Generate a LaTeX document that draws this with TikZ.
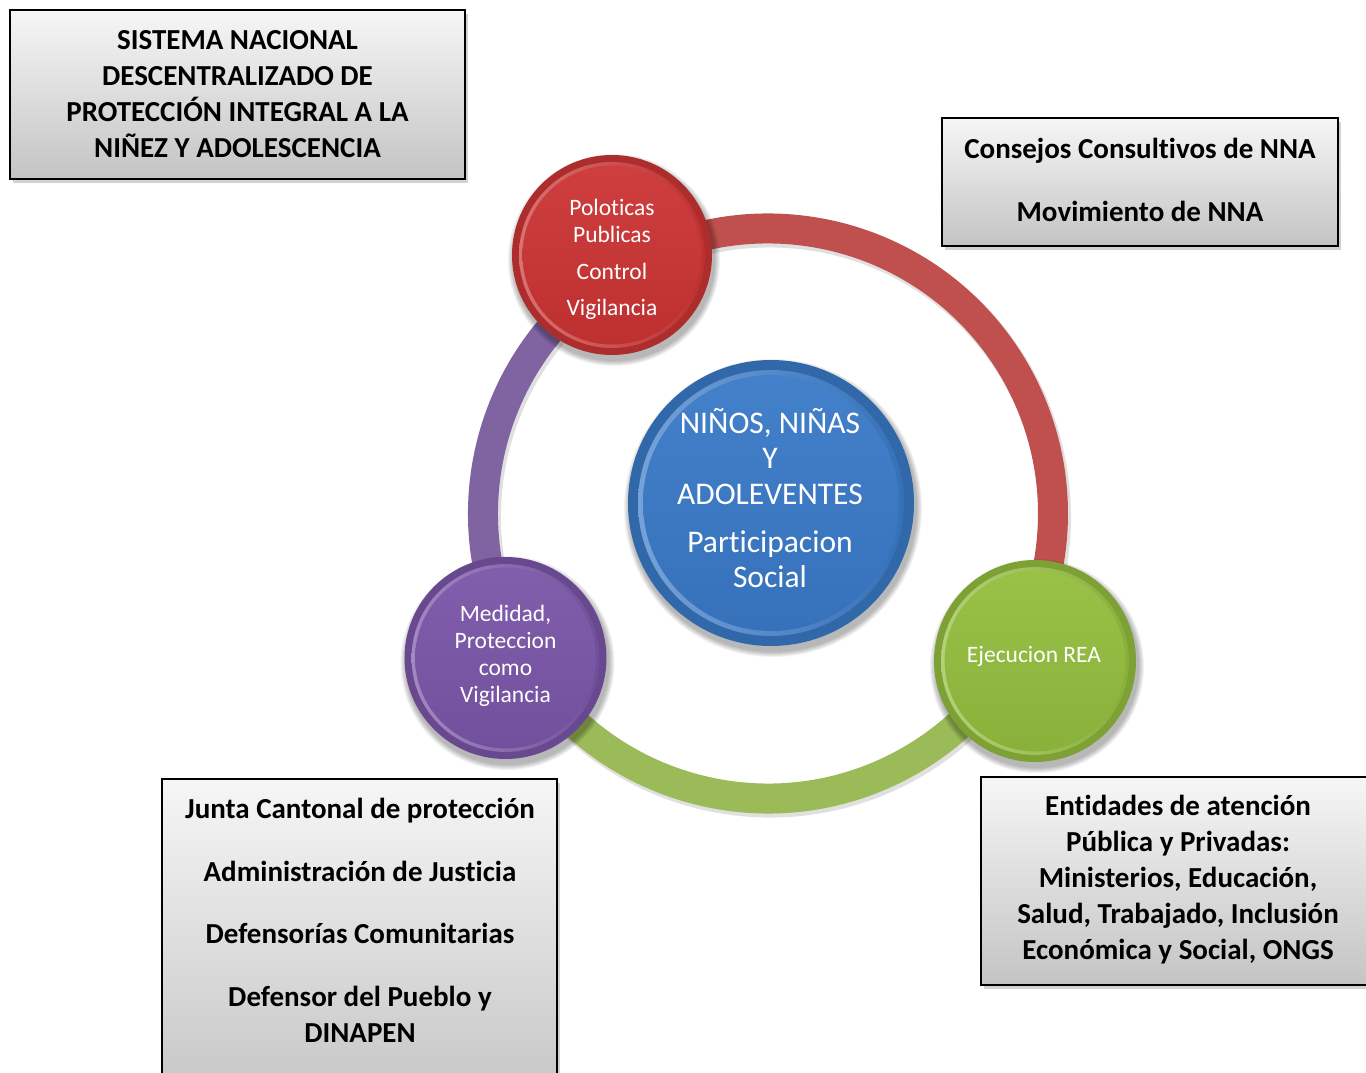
\documentclass[tikz,border=0pt]{standalone}
\usepackage{fontspec}
\setmainfont[Ligatures={NoCommon}]{Carlito}
\usetikzlibrary{calc,shadows}
\definecolor{ringred}{RGB}{192,80,77}
\definecolor{ringpurple}{RGB}{128,100,162}
\definecolor{ringgreen}{RGB}{155,187,89}
\definecolor{circred}{RGB}{204,52,52}
\definecolor{circblue}{RGB}{58,122,200}
\definecolor{circpurple}{RGB}{122,86,168}
\definecolor{circgreen}{RGB}{148,190,62}
\definecolor{boxtop}{RGB}{246,246,246}
\definecolor{boxbot}{RGB}{196,196,196}
\newcommand\mybubble[3]{%
  \foreach \k in {1,...,6} \fill[black, opacity=0.05] ($(#1)+(2,-5)$) circle[radius=#2+7-\k];
  \fill[#3!85!black] (#1) circle[radius=#2];
  \shade[left color=#3!70!white, right color=#3!92!black] (#1) circle[radius=0.93*#2];
  \shade[top color=#3!95!white, bottom color=#3!93!black] (#1) circle[radius=0.895*#2];
}
\tikzset{
  infobox/.style={draw=black, line width=1.4pt, top color=boxtop, bottom color=boxbot,
    drop shadow={opacity=0.35, shadow xshift=3pt, shadow yshift=-4pt},
    rectangle, inner sep=0pt, align=center,
    font=\bfseries\fontsize{29}{36}\selectfont},
  boxtext/.style={align=center, inner sep=0pt, font=\bfseries\fontsize{29}{36}\selectfont},
  ringline/.style={line width=30pt},
  ringshadow/.style={line width=32pt, black, opacity=0.12},
  bubble/.style={circle, inner sep=0pt, align=center, text=white,
    font=\fontsize{23.5}{27}\selectfont},
  bigbubble/.style={bubble, font=\fontsize{31.5}{35.5}\selectfont}
}
\begin{document}
\begin{tikzpicture}[x=1pt,y=1pt]
\useasboundingbox (0,0) rectangle (1366,1072);
\fill[white] (0,0) rectangle (1366,1072);

% boxes
\node[infobox, minimum width=455, minimum height=169] (sistema) at (237.5,977.5)
  {SISTEMA NACIONAL\\DESCENTRALIZADO DE\\PROTECCIÓN INTEGRAL A LA\\NIÑEZ Y ADOLESCENCIA};
\node[infobox, minimum width=396, minimum height=128] (consejos) at (1140,890) {};
\node[boxtext] (consejostext) at (1140,892.5)
  {Consejos Consultivos de NNA\\[27pt]Movimiento de NNA};
\node[infobox, minimum width=395, minimum height=330] (junta) at (359.5,128) {};
\node[boxtext] (juntatext) at (360,152)
  {Junta Cantonal de protección\\[27pt]Administración de Justicia\\[26pt]Defensorías Comunitarias\\[27pt]Defensor del Pueblo y\\DINAPEN};
\node[infobox, minimum width=386, minimum height=208] (entidades) at (1174,191) {};
\node[boxtext] (entidadestext) at (1178,192)
  {Entidades de atención\\Pública y Privadas:\\Ministerios, Educación,\\Salud, Trabajado, Inclusión\\Económica y Social, ONGS};

% ring
\coordinate (ringc) at (768,558.5);
\coordinate (pR) at ($(ringc)+(121:285)$);
\coordinate (pP) at ($(ringc)+(209:285)$);
\coordinate (pG) at ($(ringc)+(331:285)$);
\draw[ringshadow] ($(pR)+(2,-3)$) arc[start angle=121, end angle=-29, radius=285];
\draw[ringshadow] ($(pR)+(2,-3)$) arc[start angle=121, end angle=209, radius=285];
\draw[ringshadow] ($(pP)+(2,-3)$) arc[start angle=209, end angle=331, radius=285];
\draw[ringline, ringred] (pR) arc[start angle=121, end angle=-29, radius=285];
\draw[ringline, ringpurple] (pR) arc[start angle=121, end angle=209, radius=285];
\draw[ringline, ringgreen] (pP) arc[start angle=209, end angle=331, radius=285];

% bubbles
\coordinate (cR) at (612,817);
\coordinate (cB) at (771,569);
\coordinate (cP) at (505.5,414);
\coordinate (cG) at (1035,411);
\mybubble{cR}{100}{circred}
\mybubble{cB}{143}{circblue}
\mybubble{cP}{101}{circpurple}
\mybubble{cG}{101}{circgreen}

\node[bubble, minimum size=200] (politicas) at ($(cR)+(0,-4)$)
  {Poloticas\\Publicas\\[10pt]Control\\[9pt]Vigilancia};
\node[bigbubble, minimum size=286] (ninos) at ($(cB)+(-1,5)$)
  {NIÑOS, NIÑAS\\Y\\ADOLEVENTES\\[12.5pt]Participacion\\Social};
\node[bubble, minimum size=202] (medidad) at ($(cP)+(0,2)$)
  {Medidad,\\Proteccion\\como\\Vigilancia};
\node[bubble, minimum size=202] (ejecucion) at ($(cG)+(-1,5)$) {Ejecucion REA};
\end{tikzpicture}
\end{document}
